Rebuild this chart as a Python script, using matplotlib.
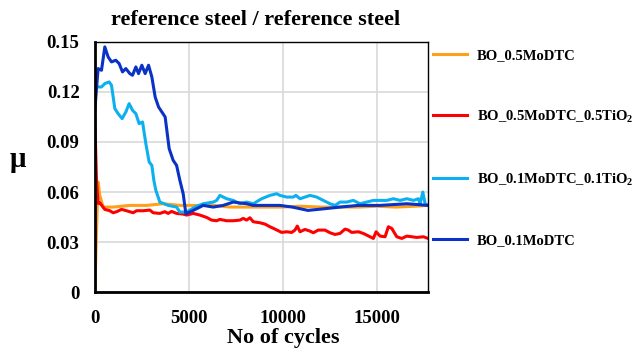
import matplotlib
matplotlib.use('Agg')
import matplotlib.pyplot as plt

plt.rcParams['font.family'] = ['Liberation Serif', 'DejaVu Serif']
plt.rcParams['font.weight'] = 'bold'
plt.rcParams['mathtext.fontset'] = 'custom'
plt.rcParams['mathtext.rm'] = 'Liberation Serif:bold'
plt.rcParams['mathtext.bf'] = 'Liberation Serif:bold'

# BO_0.5MoDTC
c_orange = [0, 100, 176, 266, 443, 976, 1862, 2750, 3633, 4521, 5053, 6293, 7184,
            8069, 9840, 11000, 12000, 13000, 14000, 15000, 16000, 17000, 17713]
mu_orange = [0.0, 0.040, 0.066, 0.058, 0.051, 0.051, 0.052, 0.052, 0.053, 0.052, 0.052,
             0.052, 0.051, 0.051, 0.051, 0.0515, 0.051, 0.051, 0.051, 0.0515, 0.051, 0.0515, 0.052]

# BO_0.5MoDTC_0.5TiO2
c_red = [0, 90, 176, 266, 356, 532, 798, 973, 1154, 1420, 1686, 2037, 2218, 2569, 2926,
         3101, 3457, 3723, 3899, 4080, 4346, 4697, 4878, 5229, 5585, 5941, 6207, 6473,
         6649, 7005, 7356, 7713, 7888, 8069, 8245, 8420, 8777, 9043, 9309, 9574, 9931,
         10197, 10463, 10638, 10761, 10904, 11170, 11436, 11611, 11878, 12234, 12500,
         12766, 13032, 13298, 13473, 13654, 14005, 14271, 14627, 14803, 14947, 15160,
         15426, 15601, 15782, 16048, 16314, 16580, 16846, 17112, 17463, 17713]
mu_red = [0.104, 0.067, 0.0532, 0.0536, 0.0522, 0.0496, 0.0488, 0.0476, 0.0482, 0.0496,
          0.0488, 0.0476, 0.0488, 0.0488, 0.0492, 0.0476, 0.0472, 0.0482, 0.0472, 0.0484,
          0.0472, 0.0468, 0.0462, 0.0472, 0.0462, 0.0448, 0.0432, 0.0428, 0.0436, 0.0428,
          0.0428, 0.0432, 0.0442, 0.0432, 0.0446, 0.0422, 0.0416, 0.0408, 0.0392, 0.0378,
          0.0358, 0.0362, 0.0358, 0.0372, 0.0396, 0.0362, 0.0376, 0.0366, 0.0356, 0.0372,
          0.0372, 0.0356, 0.0346, 0.0352, 0.0378, 0.0372, 0.0358, 0.0362, 0.0352, 0.0332,
          0.0322, 0.0362, 0.0336, 0.0332, 0.0392, 0.0382, 0.0332, 0.0322, 0.0336, 0.0332,
          0.0328, 0.0332, 0.0322]

# BO_0.1MoDTC_0.1TiO2
c_lblue = [0, 176, 356, 532, 761, 888, 1064, 1239, 1452, 1649, 1824, 2005, 2181, 2356,
           2537, 2713, 2888, 3032, 3138, 3245, 3457, 3899, 4346, 4521, 4878, 5319, 5761,
           6293, 6473, 6649, 7005, 7356, 7713, 8069, 8420, 8867, 9308, 9665, 9840, 10197,
           10548, 10691, 10904, 11436, 11792, 12144, 12500, 12766, 13032, 13388, 13739,
           14096, 14452, 14803, 15160, 15516, 15867, 16223, 16580, 16931, 17197, 17287,
           17431, 17553, 17713]
mu_lblue = [0.123, 0.123, 0.123, 0.125, 0.126, 0.124, 0.110, 0.107, 0.104, 0.108, 0.113,
            0.109, 0.107, 0.101, 0.102, 0.089, 0.078, 0.076, 0.067, 0.061, 0.054, 0.052,
            0.051, 0.048, 0.048, 0.051, 0.053, 0.054, 0.055, 0.058, 0.056, 0.055, 0.053,
            0.054, 0.053, 0.056, 0.058, 0.059, 0.058, 0.057, 0.057, 0.058, 0.056, 0.058,
            0.057, 0.055, 0.053, 0.052, 0.054, 0.054, 0.055, 0.053, 0.054, 0.055, 0.055,
            0.055, 0.056, 0.055, 0.056, 0.055, 0.056, 0.053, 0.060, 0.053, 0.052]

# BO_0.1MoDTC
c_dblue = [0, 176, 356, 532, 707, 888, 1117, 1293, 1473, 1649, 1862, 2005, 2181, 2324,
           2500, 2676, 2856, 3032, 3207, 3388, 3739, 3952, 4165, 4346, 4521, 4697, 4840,
           5229, 5761, 6293, 6824, 7356, 8069, 8420, 9133, 9840, 10500, 11330, 12200,
           13032, 14000, 15160, 16596, 17713]
mu_dblue = [0.109, 0.134, 0.133, 0.147, 0.141, 0.138, 0.139, 0.137, 0.132, 0.134, 0.131,
            0.130, 0.135, 0.131, 0.136, 0.131, 0.136, 0.129, 0.117, 0.111, 0.105, 0.086,
            0.079, 0.076, 0.067, 0.059, 0.047, 0.049, 0.052, 0.051, 0.052, 0.054, 0.053,
            0.052, 0.052, 0.052, 0.051, 0.049, 0.050, 0.051, 0.052, 0.052, 0.053, 0.052]

fig = plt.figure(figsize=(6.32, 3.55), dpi=100)
ax = fig.add_axes([0.150, 0.177, 0.527, 0.705])

ax.plot(c_orange, mu_orange, color='#FFA01A', lw=2.2, label='BO_0.5MoDTC')
ax.plot(c_red, mu_red, color='#FF0000', lw=2.2, label='BO_0.5MoDTC_0.5TiO$_2$')
ax.plot(c_lblue, mu_lblue, color='#0DB0EE', lw=2.2, label='BO_0.1MoDTC_0.1TiO$_2$')
ax.plot(c_dblue, mu_dblue, color='#0A32C4', lw=2.2, label='BO_0.1MoDTC')

ax.set_xlim(0, 17700)
ax.set_ylim(0, 0.15)
ax.set_xticks([0, 5000, 10000, 15000])
ax.set_yticks([0, 0.03, 0.06, 0.09, 0.12, 0.15])
ax.set_yticklabels(['0', '0.03', '0.06', '0.09', '0.12', '0.15'])
ax.tick_params(length=0, labelsize=13.5, pad=11)
ax.tick_params(axis='x', pad=13)
for lab in ax.get_xticklabels() + ax.get_yticklabels():
    lab.set_fontweight('bold')
ax.grid(True, color='#d9d9d9', lw=1.2)
ax.set_axisbelow(True)
for side in ['left', 'bottom']:
    ax.spines[side].set_linewidth(2)
for side in ['top', 'right']:
    ax.spines[side].set_linewidth(1)

ax.set_title('reference steel / reference steel', fontsize=16, fontweight='bold',
             x=0.483, pad=12)
ax.set_xlabel('No of cycles', fontsize=16, fontweight='bold')
ax.xaxis.set_label_coords(0.565, -0.145)
ax.set_ylabel('μ', fontsize=21, fontweight='bold', rotation=0, va='center', ha='center')
ax.yaxis.set_label_coords(-0.231, 0.53)

fig.legend(loc='upper left', bbox_to_anchor=(0.685, 0.863), frameon=False,
           fontsize=10.5, handlelength=2.35, handletextpad=0.68, labelspacing=3.18,
           borderpad=0, borderaxespad=0)

fig.savefig('out.png', dpi=100)
